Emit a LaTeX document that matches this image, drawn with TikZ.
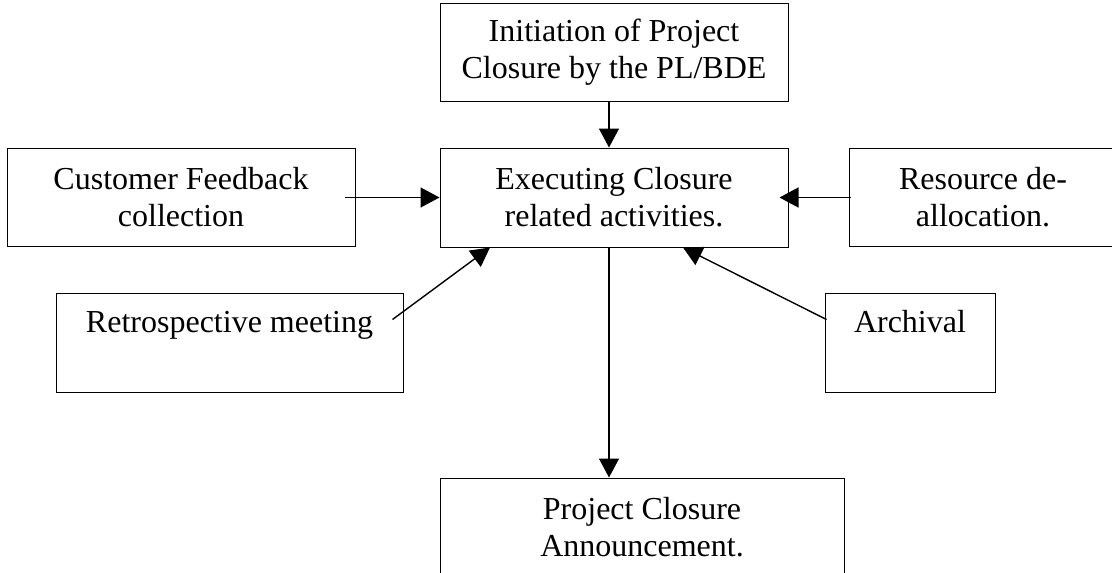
\documentclass[tikz,border=0pt]{standalone}
\usepackage{fontspec}
\setmainfont{Liberation Serif}
\usetikzlibrary{arrows.meta,positioning}

\begin{document}
\begin{tikzpicture}[x=1pt,y=-1pt]
	\tikzstyle{block} = [rectangle, draw, line width=1pt, align=center, minimum height=98pt, font=\fontsize{32}{37}\selectfont]
	\tikzstyle{oneline} = [inner sep=0pt, text height=39pt, text depth=60pt]
	\tikzstyle{arrow} = [draw, line width=1.4pt, -{Triangle[length=19pt,width=20pt]}]

	\clip (0,0) rectangle (1112,573);

	\node [block, minimum width=348pt, minimum height=99pt] (exec) at (614,197.5) {Executing Closure\\related activities.};
	\node [block, minimum width=348pt, above=46pt of exec] (init) {Initiation of Project\\Closure by the PL/BDE};
	\node [block, minimum width=348pt, left=84pt of exec] (feedback) {Customer Feedback\\collection};
	\node [block, minimum width=268pt, right=60pt of exec] (resource) {Resource de-\\allocation.};
	\node [block, oneline, minimum width=347pt, below=46pt of feedback, xshift=48.5pt] (retro) {Retrospective meeting};
	\node [block, oneline, minimum width=170pt, below=46pt of resource, xshift=-73pt] (archival) {Archival};
	\node [block, minimum width=404pt, below=230pt of exec, xshift=28pt] (announce) {Project Closure\\Announcement.};

	\path[arrow] ([xshift=-5pt]init.south) -- ([xshift=-5pt]exec.north);
	\path[arrow] ([xshift=-11pt]feedback.east) -- (exec.west);
	\path[arrow] ([xshift=2pt]resource.west) -- ([xshift=-9pt]exec.east);
	\path[arrow] ([shift={(-11,-23.5)}]retro.east) -- ([xshift=-124pt]exec.south);
	\path[arrow] ([shift={(2,-23.5)}]archival.west) -- ([xshift=69pt]exec.south);
	\path[arrow] ([xshift=-5pt]exec.south) -- ([xshift=-33pt]announce.north);
\end{tikzpicture}
\end{document}
